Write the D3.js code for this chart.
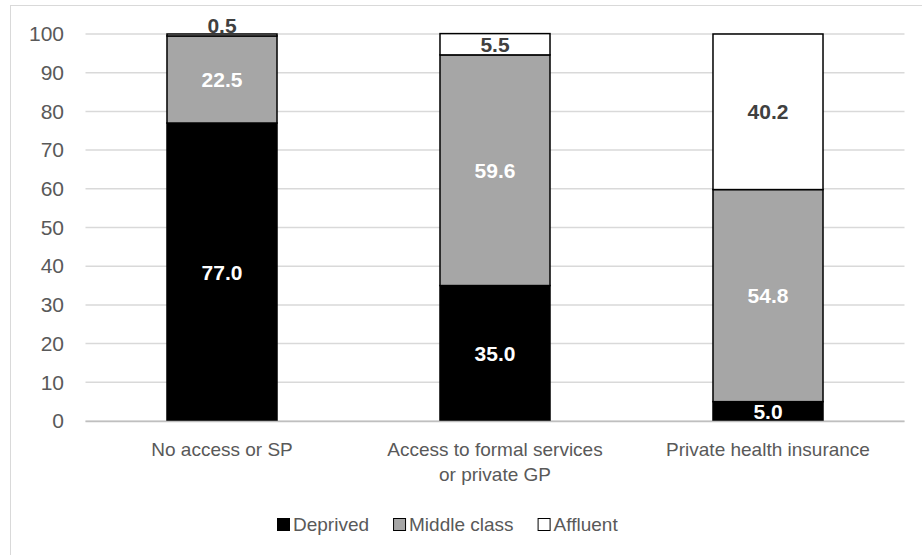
<!DOCTYPE html>
<html>
<head>
<meta charset="utf-8">
<script src="https://cdn.jsdelivr.net/npm/d3@7"></script>
<style>
  html, body { margin: 0; padding: 0; background: #ffffff; }
  svg { display: block; font-family: Arial, "Liberation Sans", sans-serif; }
</style>
</head>
<body>
<svg id="chart" width="922" height="555"></svg>
<script>
// Share of each access group by socio-economic class (%)
const categories = ["No access or SP", "Access to formal services or private GP", "Private health insurance"];
const categoryLines = [["No access or SP"], ["Access to formal services", "or private GP"], ["Private health insurance"]];
const seriesNames = ["Deprived", "Middle class", "Affluent"];
const deprived = [77.0, 35.0, 5.0];
const middleClass = [22.5, 59.6, 54.8];
const affluent = [0.5, 5.5, 40.2];
const yTicks = [0, 10, 20, 30, 40, 50, 60, 70, 80, 90, 100];

const fills = ["#000000", "#a6a6a6", "#ffffff"];
const labelColors = ["#ffffff", "#ffffff", "#404040"];

const svg = d3.select("#chart");

// chart area frame
svg.append("rect")
  .attr("x", 10.5).attr("y", 5.5)
  .attr("width", 940).attr("height", 580)
  .attr("fill", "none").attr("stroke", "#d9d9d9").attr("stroke-width", 1);

const plot = { left: 85.5, right: 904.5, top: 34, bottom: 421 };

const x = d3.scaleBand()
  .domain(categories)
  .range([plot.left, plot.right])
  .paddingInner(0.597)
  .paddingOuter(0.2985);

const y = d3.scaleLinear().domain([0, 100]).range([plot.bottom, plot.top]);

// gridlines
svg.append("g").selectAll("line")
  .data(yTicks)
  .join("line")
  .attr("x1", plot.left).attr("x2", plot.right)
  .attr("y1", d => y(d)).attr("y2", d => y(d))
  .attr("stroke", "#d9d9d9").attr("stroke-width", 1.5);

// y axis labels
const yAxis = d3.axisLeft(y).tickValues(yTicks).tickSize(0).tickPadding(0);
const yG = svg.append("g").attr("transform", "translate(64,0)").call(yAxis);
yG.select(".domain").remove();
yG.selectAll("text")
  .attr("font-size", 21)
  .attr("font-family", "Arial, 'Liberation Sans', sans-serif")
  .attr("fill", "#595959");

// stacked data
const rows = categories.map((c, i) => ({
  category: c,
  "Deprived": deprived[i],
  "Middle class": middleClass[i],
  "Affluent": affluent[i]
}));
const stacked = d3.stack().keys(seriesNames)(rows);

const layers = svg.append("g").selectAll("g")
  .data(stacked)
  .join("g")
  .attr("fill", (d, i) => fills[i]);

layers.selectAll("rect")
  .data(d => d)
  .join("rect")
  .attr("x", d => x(d.data.category))
  .attr("width", x.bandwidth())
  .attr("y", d => y(d[1]))
  .attr("height", d => y(d[0]) - y(d[1]))
  .attr("stroke", "#000000")
  .attr("stroke-width", 1.5);

// category axis line
svg.append("line")
  .attr("x1", plot.left).attr("x2", plot.right)
  .attr("y1", plot.bottom + 0.5).attr("y2", plot.bottom + 0.5)
  .attr("stroke", "#bfbfbf").attr("stroke-width", 1.5);

// value labels
const labelH = 16;
stacked.forEach((layer, si) => {
  svg.append("g").selectAll("text")
    .data(layer)
    .join("text")
    .attr("x", d => x(d.data.category) + x.bandwidth() / 2)
    .attr("y", d => {
      const top = y(d[1]), bot = y(d[0]);
      return (bot - top) < labelH ? top - 9 : (top + bot) / 2;
    })
    .attr("dy", "0.36em")
    .attr("text-anchor", "middle")
    .attr("font-size", 21)
    .attr("font-weight", "bold")
    .attr("fill", d => (y(d[0]) - y(d[1])) < labelH ? "#404040" : labelColors[si])
    .text(d => (d[1] - d[0]).toFixed(1));
});

// category labels
const catG = svg.append("g");
categories.forEach((c, i) => {
  const t = catG.append("text")
    .attr("x", x(c) + x.bandwidth() / 2)
    .attr("y", 456)
    .attr("text-anchor", "middle")
    .attr("font-size", 19)
    .attr("fill", "#595959");
  categoryLines[i].forEach((ln, j) => {
    t.append("tspan")
      .attr("x", x(c) + x.bandwidth() / 2)
      .attr("dy", j === 0 ? 0 : 25)
      .text(ln);
  });
});

// legend
const legend = svg.append("g");
let lx = 277;
seriesNames.forEach((name, i) => {
  legend.append("rect")
    .attr("x", lx + 0.5).attr("y", 518.5)
    .attr("width", 12).attr("height", 12)
    .attr("fill", fills[i])
    .attr("stroke", "#000000").attr("stroke-width", 1);
  const t = legend.append("text")
    .attr("x", lx + 16).attr("y", 531)
    .attr("font-size", 19)
    .attr("fill", "#595959")
    .text(name);
  lx += 16 + t.node().getComputedTextLength() + 24;
});
</script>
</body>
</html>
